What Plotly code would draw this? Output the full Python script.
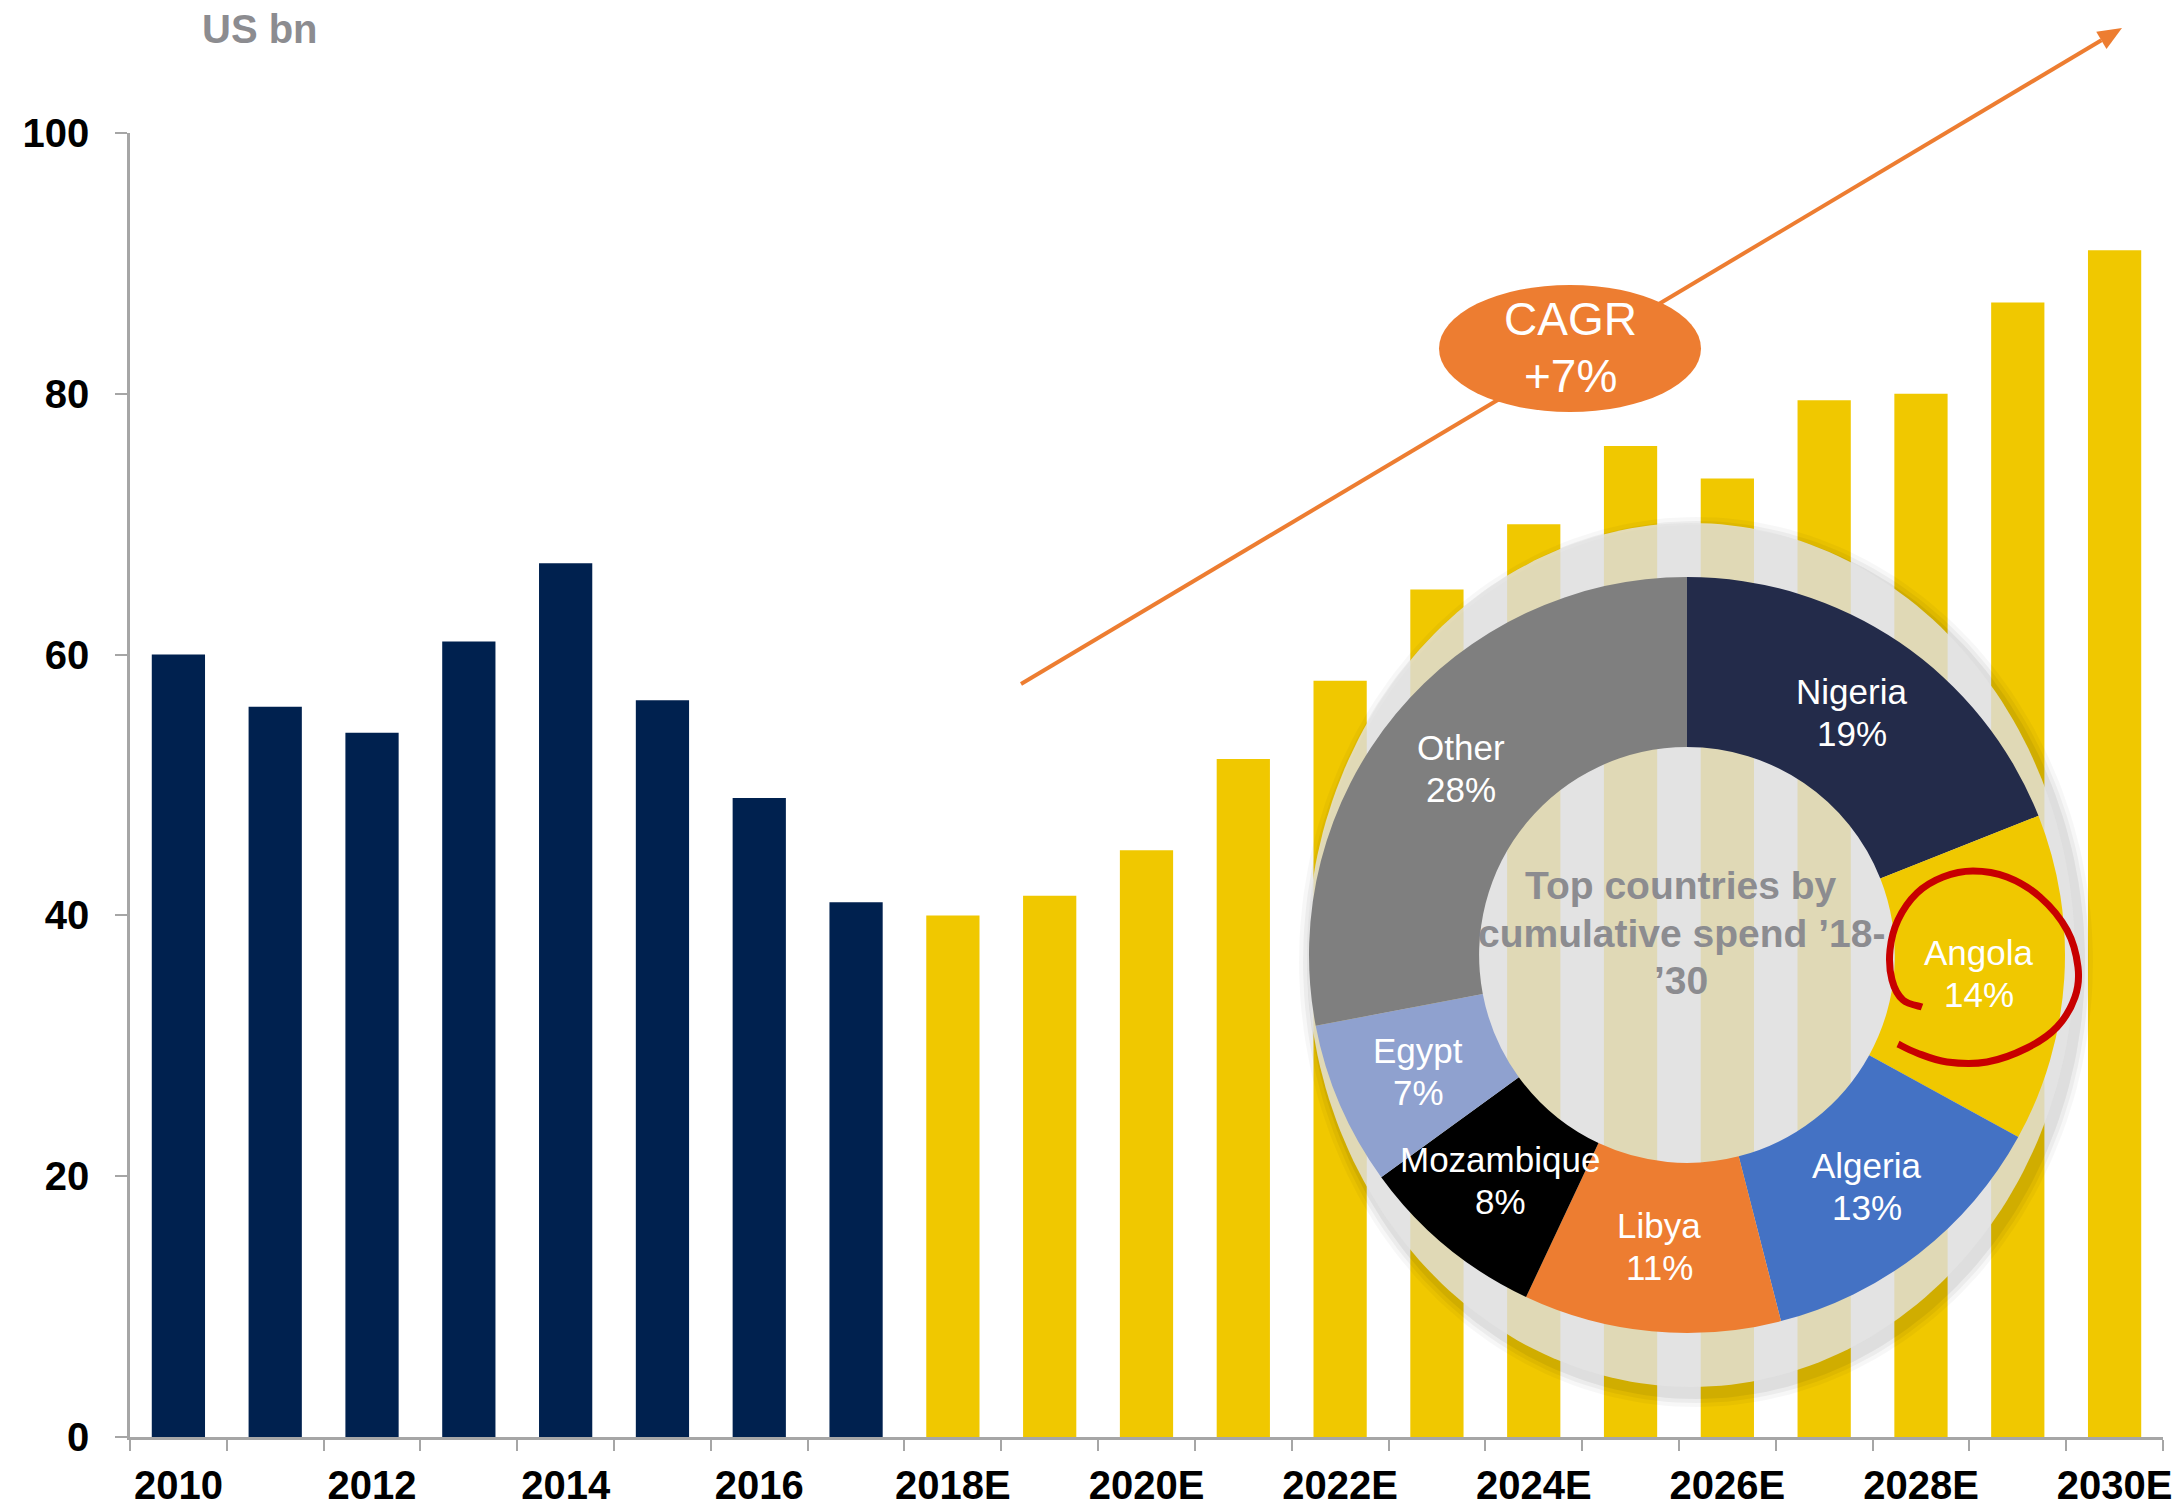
import numpy as np
import plotly.graph_objects as go

# ---------------- data ----------------
years = ["2010", "2011", "2012", "2013", "2014", "2015", "2016", "2017",
         "2018E", "2019E", "2020E", "2021E", "2022E", "2023E", "2024E",
         "2025E", "2026E", "2027E", "2028E", "2029E", "2030E"]
spend = [60, 56, 54, 61, 67, 56.5, 49, 41,
         40, 41.5, 45, 52, 58, 65, 70, 76, 73.5, 79.5, 80, 87, 91]

countries = ["Nigeria", "Angola", "Algeria", "Libya", "Mozambique", "Egypt", "Other"]
shares = [19, 14, 13, 11, 8, 7, 28]
country_colors = ["#232B4A", "#F0C800", "#4472C4", "#ED7D31", "#000000", "#8FA1CF", "#7F7F7F"]

y_ticks = [0, 20, 40, 60, 80, 100]
cagr_lines = ["CAGR", "+7%"]
unit_text = "US bn"
donut_title_lines = ["Top countries by", "cumulative spend ’18-", "’30"]

# ---------------- canvas geometry ----------------
W, H = 2179, 1506
ML, MR, MT, MB = 130, 16, 133, 69
PW, PH = W - ML - MR, H - MT - MB
N = len(years)
YMAX = 100

FONT = "Liberation Sans, Arial, sans-serif"
NAVY = "#00214F"
YELLOW = "#F0C800"
AXIS = "#A6A6A6"
ORANGE = "#ED7D31"
GREYTXT = "#8C8C90"


def to_paper(X, Y):
    return (X - ML) / PW, (H - MB - Y) / PH


def to_data(X, Y):
    X = np.asarray(X, float)
    Y = np.asarray(Y, float)
    return (X - ML) / PW * N - 0.5, (H - MB - Y) / PH * YMAX


fig = go.Figure()

# bars
bar_colors = [YELLOW if y.endswith("E") else NAVY for y in years]
fig.add_trace(go.Bar(x=list(range(N)), y=spend, width=0.55,
                     marker=dict(color=bar_colors, line=dict(width=0)),
                     hoverinfo="skip"))

# pale disc behind the donut (with soft shadow)
dcx, dcy, da, db = 1691, 955, 384, 432
t = np.linspace(0, 2 * np.pi, 241)
for grow, alpha in [(13, 0.03), (9, 0.045), (5, 0.06)]:
    ex, ey = to_data(dcx + 5 + (da + grow) * np.cos(t), dcy + 7 + (db + grow) * np.sin(t))
    fig.add_trace(go.Scatter(x=ex, y=ey, mode="lines", fill="toself",
                             fillcolor=f"rgba(0,0,0,{alpha})", line=dict(width=0),
                             hoverinfo="skip"))
ex, ey = to_data(dcx + da * np.cos(t), dcy + db * np.sin(t))
fig.add_trace(go.Scatter(x=ex, y=ey, mode="lines", fill="toself",
                         fillcolor="rgba(228,228,228,0.80)", line=dict(width=0),
                         hoverinfo="skip"))

# donut
cx, cy, R = 1687, 955, 378
hole = 0.55
x0p, y1p = to_paper(cx - R, cy - R)
x1p, y0p = to_paper(cx + R, cy + R)
fig.add_trace(go.Pie(values=shares, labels=countries, hole=hole, sort=False,
                     direction="clockwise", rotation=0,
                     marker=dict(colors=country_colors, line=dict(width=0)),
                     textinfo="none", hoverinfo="skip",
                     domain=dict(x=[x0p, x1p], y=[y0p, y1p])))

annotations = []


def text_at(X, Y, text, size, color, bold=False, xanchor="center"):
    px, py = to_paper(X, Y)
    f = dict(family=FONT, size=size, color=color)
    if bold:
        f["weight"] = "bold"
    annotations.append(dict(x=px, y=py, xref="paper", yref="paper", text=text,
                            showarrow=False, xanchor=xanchor, yanchor="middle", font=f))


# slice labels
rmid = R * (1 + hole) / 2
total = sum(shares)
cum = 0
for name, v in zip(countries, shares):
    mid = (cum + v / 2) / total * 2 * np.pi
    cum += v
    X = cx + rmid * np.sin(mid)
    Y = cy - rmid * np.cos(mid)
    text_at(X, Y - 21, name, 35, "white")
    text_at(X, Y + 21, f"{round(v / total * 100)}%", 35, "white")

# donut centre title
for i, line in enumerate(donut_title_lines):
    text_at(1681, 886 + 47 * i, line, 39, GREYTXT, bold=True)

# unit label
text_at(200, 29, unit_text, 40, GREYTXT, bold=True, xanchor="left")

# CAGR label
for i, line in enumerate(cagr_lines):
    text_at(1570, 319 + 57 * i, line, 46, "white")

shapes = []
# growth arrow
S = np.array([1021.0, 684.0])
T = np.array([2122.0, 28.0])
d = (T - S) / np.linalg.norm(T - S)
n = np.array([-d[1], d[0]])
Bc = T - 24 * d
sx, sy = to_paper(*S)
bx, by = to_paper(*Bc)
shapes.append(dict(type="line", xref="paper", yref="paper", x0=sx, y0=sy, x1=bx, y1=by,
                   line=dict(color=ORANGE, width=4), layer="above"))
tri = [T, Bc + 10 * n, Bc - 10 * n]
tri_p = [to_paper(*p) for p in tri]
path = "M " + " L ".join(f"{a:.5f},{b:.5f}" for a, b in tri_p) + " Z"
shapes.append(dict(type="path", xref="paper", yref="paper", path=path,
                   fillcolor=ORANGE, line=dict(width=0), layer="above"))

# CAGR ellipse
ex0, ey0 = to_paper(1439, 412)
ex1, ey1 = to_paper(1701, 285)
shapes.append(dict(type="circle", xref="paper", yref="paper", x0=ex0, y0=ey0, x1=ex1, y1=ey1,
                   fillcolor=ORANGE, line=dict(width=0), layer="above"))

# hand-drawn red circle round Angola
pts = np.array([(1922, 1007), (1903, 1000), (1892, 980), (1890, 950), (1898, 920),
                (1917, 893), (1943, 877), (1973, 871), (2007, 877), (2040, 897),
                (2067, 930), (2078, 967), (2075, 997), (2057, 1027), (2027, 1048),
                (1987, 1062), (1947, 1062), (1917, 1053), (1898, 1044)], float)
pp = np.array([to_paper(*p) for p in pts])
ext = np.vstack([pp[0], pp, pp[-1]])
seg = [f"M {pp[0][0]:.5f},{pp[0][1]:.5f}"]
for i in range(1, len(ext) - 2):
    p0, p1, p2, p3 = ext[i - 1], ext[i], ext[i + 1], ext[i + 2]
    c1 = p1 + (p2 - p0) / 6
    c2 = p2 - (p3 - p1) / 6
    seg.append(f"C {c1[0]:.5f},{c1[1]:.5f} {c2[0]:.5f},{c2[1]:.5f} {p2[0]:.5f},{p2[1]:.5f}")
shapes.append(dict(type="path", xref="paper", yref="paper", path=" ".join(seg),
                   line=dict(color="#C80000", width=7), layer="above"))

tickvals = list(range(0, N, 2))
fig.update_layout(
    width=W, height=H,
    margin=dict(l=ML, r=MR, t=MT, b=MB, pad=0, autoexpand=False),
    plot_bgcolor="white", paper_bgcolor="white",
    showlegend=False,
    annotations=annotations, shapes=shapes,
    xaxis=dict(range=[-0.5, N - 0.5], showgrid=False, zeroline=False,
               showline=True, linecolor=AXIS, linewidth=2.5,
               tickmode="array", tickvals=tickvals, ticktext=[years[i] for i in tickvals],
               ticks="", ticklabelstandoff=11,
               tickfont=dict(family=FONT, size=40, color="black", weight="bold"),
               minor=dict(tickmode="array", tickvals=[i - 0.5 for i in range(N + 1)],
                          ticks="outside", ticklen=11, tickwidth=2, tickcolor=AXIS),
               automargin=False, fixedrange=True),
    yaxis=dict(range=[0, YMAX], showgrid=False, zeroline=False,
               showline=True, linecolor=AXIS, linewidth=2.5,
               tickmode="array", tickvals=y_ticks,
               ticks="outside", ticklen=12, tickwidth=2, tickcolor=AXIS,
               ticklabelstandoff=18,
               tickfont=dict(family=FONT, size=40, color="black", weight="bold"),
               automargin=False, fixedrange=True),
)

fig.write_html("out.html", config={"displayModeBar": False},
               post_script="document.body.style.margin='0';document.body.style.overflow='hidden';")
